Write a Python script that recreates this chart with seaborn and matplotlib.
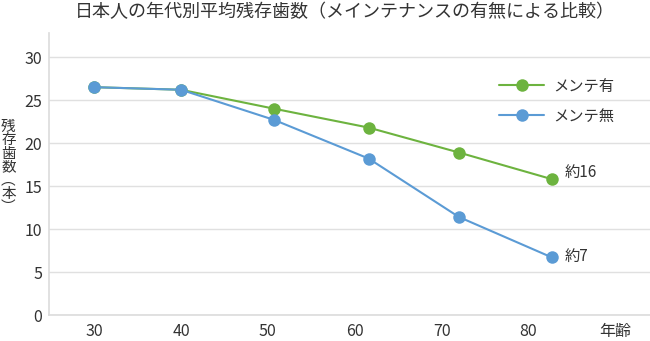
import matplotlib
matplotlib.use("Agg")
import matplotlib.pyplot as plt
import seaborn as sns
import pandas as pd

ages = [30, 40, 50.7, 61.6, 72.0, 82.7]
with_maint = [26.5, 26.2, 24.0, 21.8, 18.9, 15.8]
without_maint = [26.5, 26.2, 22.7, 18.2, 11.4, 6.7]
series_names = ["メンテ有", "メンテ無"]
xtick_vals = [30, 40, 50, 60, 70, 80, 90]
xtick_labels = ["30", "40", "50", "60", "70", "80", "年齢"]
ytick_vals = [0, 5, 10, 15, 20, 25, 30]
end_labels = ["約16", "約7"]

sns.set_theme(style="white")
plt.rcParams['font.family'] = ['Noto Sans CJK JP', 'DejaVu Sans']

df = pd.DataFrame({
    "age": ages * 2,
    "teeth": with_maint + without_maint,
    "series": [series_names[0]] * len(ages) + [series_names[1]] * len(ages),
})

green = "#6db33f"
blue = "#5b9bd5"
fig = plt.figure(figsize=(6.5, 3.41), dpi=100)
ax = fig.add_axes([0.0754, 0.0762, 0.9246, 0.827])
sns.lineplot(data=df, x="age", y="teeth", hue="series", palette=[green, blue],
             marker="o", markersize=9, markeredgewidth=0, linewidth=1.5, ax=ax)

ax.set_xlim(24.8, 94)
ax.set_ylim(0, 32.8)
ax.set_xticks(xtick_vals)
ax.set_xticklabels(xtick_labels)
ax.set_yticks(ytick_vals)
ax.tick_params(axis="both", length=0, labelsize=11.5, colors="#333333")
ax.tick_params(axis="x", pad=6)
ax.tick_params(axis="y", pad=5)
ax.grid(axis="y", color="#e0e0e0", linewidth=1)
for s in ["top", "right"]:
    ax.spines[s].set_visible(False)
ax.spines["left"].set_color("#dddddd")
ax.spines["bottom"].set_color("#dddddd")
ax.set_xlabel("")
ax.set_ylabel("")

ax.annotate(end_labels[0], (ages[-1], with_maint[-1]), xytext=(9, 5),
            textcoords="offset points", fontsize=11, color="#333333", va="center")
ax.annotate(end_labels[1], (ages[-1], without_maint[-1]), xytext=(9, 0.5),
            textcoords="offset points", fontsize=11, color="#333333", va="center")

leg = ax.legend(loc="upper right", bbox_to_anchor=(0.964, 0.89), frameon=False,
                fontsize=11, labelspacing=0.85, handlelength=3.0, handletextpad=0.6)
for t in leg.get_texts():
    t.set_color("#333333")

fig.text(0.531, 0.966, "日本人の年代別平均残存歯数（メインテナンスの有無による比較）",
         ha="center", va="center", fontsize=13, color="#333333")
fig.text(0.013, 0.51, "残\n存\n歯\n数\n︵\n本\n︶", ha="center", va="center",
         fontsize=10.5, color="#333333", linespacing=0.95)

fig.savefig("out.png", dpi=100)
